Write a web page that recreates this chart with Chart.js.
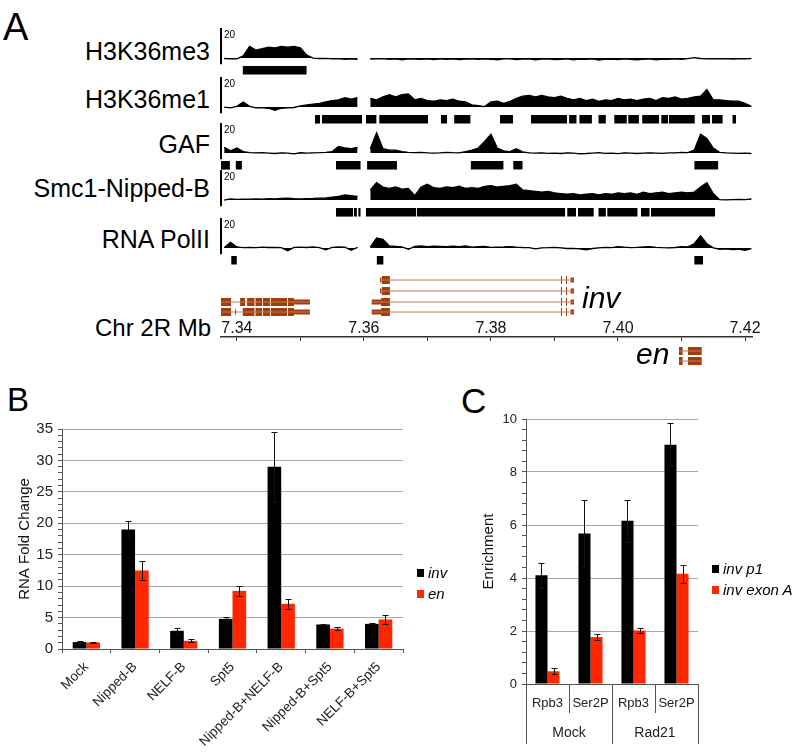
<!DOCTYPE html>
<html><head><meta charset="utf-8">
<script src="https://cdn.jsdelivr.net/npm/chart.js@4.4.1/dist/chart.umd.min.js"></script>
<style>
html,body{margin:0;padding:0;background:#fff;}
body{width:800px;height:756px;position:relative;overflow:hidden;font-family:"Liberation Sans",Arial,sans-serif;}
canvas{position:absolute;}
.t{position:absolute;white-space:nowrap;color:#000;}
.sq{position:absolute;width:7px;height:8px;}
</style></head><body>
<script>
// ---------------- DATA ----------------
const viewStartMb = 7.3375, viewEndMb = 7.4211;
const binPositionsMb = [7.338,7.339,7.340,7.341,7.342,7.343,7.344,7.345,7.346,7.347,
 7.348,7.349,7.350,7.351,7.352,7.353,7.354,7.355,7.356,7.357,
 7.358,7.359,7.360,7.361,7.362,7.363,7.364,7.365,7.366,7.367,
 7.368,7.369,7.370,7.371,7.372,7.373,7.374,7.375,7.376,7.377,
 7.378,7.379,7.380,7.381,7.382,7.383,7.384,7.385,7.386,7.387,
 7.388,7.389,7.390,7.391,7.392,7.393,7.394,7.395,7.396,7.397,
 7.398,7.399,7.400,7.401,7.402,7.403,7.404,7.405,7.406,7.407,
 7.408,7.409,7.410,7.411,7.412,7.413,7.414,7.415,7.416,7.417,
 7.418,7.419,7.420,7.421];
const trackNames = ['H3K36me3','H3K36me1','GAF','Smc1-Nipped-B','RNA PolII'];
const sigH3K36me3 = [-0.3,-0.6,-0.5,1.5,8,5.5,6.5,7.5,7,8,
 7.5,8,7,2,0,-0.3,-0.2,-0.5,-0.4,-0.8,
 -0.6,-0.9,null,-0.7,-0.5,-0.4,-0.8,-0.6,-1.2,-0.5,
 -0.7,-0.9,-0.6,-1.0,-0.5,-0.8,-0.6,-1.1,-0.7,-0.5,
 -0.9,-0.6,-0.8,-1.2,-0.6,-0.5,-1.0,-0.7,-0.6,-1.3,
 -0.7,-0.6,-1.0,-0.8,-0.5,-1.2,-0.7,-0.9,-0.6,-1.4,
 -0.8,-0.7,-1.1,-0.6,-0.9,-1.3,-0.8,-0.6,-1.2,-0.7,
 -0.9,-0.5,-0.8,-0.4,0.3,-0.3,-0.5,-0.4,-0.6,-0.4,
 -0.7,-0.5,-0.6,-0.3];
const sigH3K36me1 = [0,-0.5,0.5,3.5,0.5,-0.5,-0.5,-0.8,-2.3,-0.8,
 -0.5,-0.3,0.8,1.5,2,2.5,3.5,4.5,5,6.5,
 5.5,6.5,null,6,5,7,8.5,7,8.5,9,
 5,6,4.5,4,5,4.5,5.5,4,3.5,1.5,
 1,0.3,3.5,4,2.5,4,6,7.5,8,7,
 8,7,6.5,7.5,6,5,6,4.5,5.5,4,
 5,4.5,6,5,5.5,4.5,5.5,6,4.5,6.5,
 6,7,5.5,6,7,7.5,12,5,5,4.5,
 4,4,2.5,0.5];
const sigGAF = [4,1.5,3.5,1,0.3,0.2,0.3,0,-0.3,0.2,
 0,-0.5,0.2,0,0.2,0.3,0.5,1,4.5,3.5,
 3,4,null,3,14,3,2,2,1,0.5,
 0.3,0.5,0.2,0,0.2,0.5,0.3,0.2,1,2,
 3.5,8,13,3.5,1.5,1,3,0.8,0.2,0,
 0.2,-0.2,0,-0.3,0.2,0,-0.5,-0.3,0,0.3,
 -0.2,0,-0.4,0.2,0,-0.3,0,0.2,0,-0.2,
 0.1,0.2,0.5,0.3,2,13,10,3.5,0.5,0.2,
 0,-0.2,0,-0.3];
const sigSmc1 = [0,0.8,0.5,0.7,0.6,0.8,0.7,0.9,0.8,1.2,
 1.4,1,0.8,1,1.1,1.3,1.5,2,2.5,3.5,
 3,2.5,null,7,12,9,8,9,7.5,8,
 3,9,11,8.5,8,9,8.5,9.5,8,8.5,
 8,9.5,10,9,9.5,10,11,7,6.5,6,
 5.5,6,5,4.5,4,4.5,3.5,4,4.5,3.5,
 4.5,4,5,4.5,5,4,5.5,4.5,5,5.5,
 4.5,5,5.5,5,5.5,9,12,4.5,0.3,0.2,
 0.3,0.4,0.3,0.8];
const sigPolII = [0.2,4,0.8,0.3,0.5,0.3,0.6,0.4,0.5,0.3,
 -1.8,0.5,0.6,0.4,0.8,0.3,-1.2,0.5,0.8,0.6,
 -1.5,0.5,null,0.6,7,6,1.5,1.2,0.8,-0.8,
 1.2,1.5,1,1.4,1.2,0.9,1.3,1,1.5,0.6,
 0.9,1.2,0.5,0.7,0.8,1,0.6,0.4,0.3,-0.5,
 0.2,0.3,0.5,0.2,-0.3,-0.2,-0.6,-1.3,-0.3,0.2,
 0.5,0.3,1,0.6,0.3,0.5,0.8,1,0.5,0.3,
 0.2,0.4,1,0.8,3,8.5,3,0.2,-0.8,-0.6,
 -1,-0.8,-1.5,-0.4];
const peaksH3K36me3 = [[7.3409,7.3510]];
const peaksH3K36me1 = [[7.3523,7.3531],[7.3534,7.3597],[7.3603,7.3620],[7.3624,7.3701],[7.3721,7.3731],[7.3742,7.3768],[7.3814,7.3835],[7.3863,7.3920],[7.3923,7.3935],[7.3939,7.3959],[7.3969,7.3981],[7.3994,7.4014],[7.4016,7.4033],[7.4038,7.4065],[7.4068,7.4079],[7.4080,7.4121],[7.4132,7.4145],[7.4148,7.4165],[7.4180,7.4186]];
const peaksGAF = [[7.3375,7.3389],[7.3398,7.3408],[7.3556,7.3595],[7.3605,7.3652],[7.3768,7.3820],[7.3835,7.3850],[7.4120,7.4158]];
const peaksSmc1 = [[7.3556,7.3583],[7.3584,7.3589],[7.3591,7.3595],[7.3603,7.3682],[7.3683,7.3917],[7.3920,7.3934],[7.3937,7.3962],[7.3969,7.3981],[7.3983,7.4031],[7.4036,7.4050],[7.4052,7.4153]];
const peaksPolII = [[7.3391,7.3400],[7.3620,7.3631],[7.4120,7.4134]];

const geneUpstream = [
 {row:2, span:[7.3375,7.3515], exons:[[7.3375,7.3391,'cds'],[7.3405,7.3413,'cds'],[7.3416,7.3428,'cds'],[7.3429,7.3440,'cds'],[7.3441,7.3452,'cds'],[7.3453,7.3479,'cds'],[7.3480,7.3490,'cds'],[7.3490,7.3515,'utr']]},
 {row:3, span:[7.3375,7.3515], exons:[[7.3375,7.3391,'cds'],[7.3397,7.3399,'utr'],[7.3409,7.3428,'cds'],[7.3429,7.3440,'cds'],[7.3441,7.3452,'cds'],[7.3453,7.3479,'cds'],[7.3480,7.3490,'cds'],[7.3490,7.3515,'utr']]}
];
const geneInv = [
 {row:0, span:[7.3625,7.3931], exons:[[7.3625,7.3628,'utr'],[7.3628,7.3641,'cds'],[7.3910,7.3912,'cds'],[7.3918,7.3920,'cds'],[7.3925,7.3931,'utr']]},
 {row:1, span:[7.3625,7.3931], exons:[[7.3625,7.3628,'utr'],[7.3628,7.3641,'cds'],[7.3910,7.3912,'cds'],[7.3918,7.3920,'cds'],[7.3925,7.3931,'utr']]},
 {row:2, span:[7.3612,7.3931], exons:[[7.3612,7.3627,'utr'],[7.3627,7.3641,'cds'],[7.3910,7.3912,'cds'],[7.3918,7.3920,'cds'],[7.3925,7.3931,'utr']]},
 {row:3, span:[7.3612,7.3931], exons:[[7.3612,7.3627,'utr'],[7.3627,7.3641,'cds'],[7.3910,7.3912,'cds'],[7.3918,7.3920,'cds'],[7.3925,7.3931,'utr']]}
];
const geneEn = [
 {row:0, span:[7.4096,7.4132], exons:[[7.4096,7.4102,'cds'],[7.4110,7.4132,'cds']]},
 {row:1, span:[7.4096,7.4132], exons:[[7.4096,7.4102,'cds'],[7.4110,7.4132,'cds']]}
];

const bCategories = ['Mock','Nipped-B','NELF-B','Spt5','Nipped-B+NELF-B','Nipped-B+Spt5','NELF-B+Spt5'];
const bInv = [1.1,19.0,2.9,4.8,29.0,3.9,4.0];
const bInvErr = [0.1,1.3,0.5,0.25,5.6,0.15,0.1];
const bEn = [1.05,12.5,1.3,9.25,7.2,3.25,4.7];
const bEnErr = [0.1,1.5,0.25,0.8,0.8,0.25,0.65];

const cTargets = ['Rpb3','Ser2P','Rpb3','Ser2P'];
const cGroups = ['Mock','Rad21'];
const cP1 = [4.1,5.68,6.16,9.03];
const cP1Err = [0.47,1.25,0.79,0.82];
const cExonA = [0.48,1.77,2.02,4.16];
const cExonAErr = [0.12,0.12,0.09,0.34];

// ---------------- SETUP ----------------
const FONT = '"Liberation Sans", Arial, sans-serif';
Chart.defaults.font.family = FONT;
Chart.defaults.animation = false;
Chart.defaults.responsive = false;
Chart.defaults.plugins.legend.display = false;
Chart.defaults.plugins.tooltip.enabled = false;
Chart.defaults.events = [];

function addText(txt, style){
  const d = document.createElement('div'); d.className='t'; d.textContent = txt;
  Object.assign(d.style, style); document.body.appendChild(d); return d;
}
function addCanvas(left, top, w, h){
  const c = document.createElement('canvas'); c.width=w; c.height=h;
  c.style.left=left+'px'; c.style.top=top+'px'; c.style.width=w+'px'; c.style.height=h+'px';
  document.body.appendChild(c); return c;
}
function rectDs(s,e,yTop,yBot,color){
  return {data:[{x:s,y:yTop},{x:e,y:yTop}], borderWidth:0, borderColor:color, backgroundColor:color,
          fill:{value:yBot}, pointRadius:0, tension:0};
}

// ---------------- PANEL A ----------------
addText('A',{left:'3px',top:'8px',fontSize:'38px',lineHeight:'38px'});
addText('B',{left:'7px',top:'383px',fontSize:'33px',lineHeight:'33px'});
addText('C',{left:'461px',top:'383px',fontSize:'35px',lineHeight:'35px'});

const trackSignals = [sigH3K36me3, sigH3K36me1, sigGAF, sigSmc1, sigPolII];
const trackPeaks = [peaksH3K36me3, peaksH3K36me1, peaksGAF, peaksSmc1, peaksPolII];
const trackBaselines = [58, 107, 153, 200, 248];
const labelBaselines = [60, 108, 153, 197, 248];

const trackAxisPlugin = {id:'trackAxis', afterDraw(chart){
  const {ctx, chartArea, scales:{y}} = chart;
  ctx.save(); ctx.strokeStyle='#000'; ctx.lineWidth=2;
  ctx.beginPath(); ctx.moveTo(chartArea.left, y.getPixelForValue(20.8)); ctx.lineTo(chartArea.left, y.getPixelForValue(-4.2)); ctx.stroke();
  ctx.fillStyle='#000'; ctx.font='10px '+FONT; ctx.textBaseline='top'; ctx.textAlign='left';
  ctx.fillText('20', chartArea.left+3, y.getPixelForValue(20)+1);
  ctx.restore();
}};

trackNames.forEach((name, idx) => {
  const base = trackBaselines[idx];
  addText(name,{right:'590px',top:(labelBaselines[idx]-20.8)+'px',fontSize:'25px',lineHeight:'25px'});
  const cv = addCanvas(219, base-34, 533, 54);
  const datasets = [{
    data: binPositionsMb.map((x,i)=>({x, y: trackSignals[idx][i]})),
    borderColor:'#000', borderWidth:1.3, backgroundColor:'#000', fill:{value:0},
    pointRadius:0, tension:0, spanGaps:false
  }];
  trackPeaks[idx].forEach(([s,e]) => datasets.push(rectDs(s,e,-5.5,-11.4,'#000')));
  new Chart(cv, {type:'line', data:{datasets}, options:{
    devicePixelRatio:1,
    layout:{padding:{left:2,right:0,top:0,bottom:0}},
    scales:{x:{type:'linear',min:viewStartMb,max:viewEndMb,display:false},
            y:{type:'linear',min:-13.75,max:23.5,display:false}}
  }, plugins:[trackAxisPlugin]});
});

// gene models
const geneColor = '#a13c0c', intronColor = '#c27a58';
function geneChart(left, top, w, h, transcripts, rowCenters){
  const cv = addCanvas(left, top, w, h);
  const datasets = [];
  transcripts.forEach(t => {
    const yc = rowCenters[t.row];
    datasets.push({data:[{x:t.span[0],y:yc},{x:t.span[1],y:yc}], borderColor:intronColor, borderWidth:1, pointRadius:0, fill:false});
    t.exons.forEach(([s,e,k]) => { const hh = k==='cds'?4:2.5; datasets.push(rectDs(s,e,yc-hh,yc+hh,geneColor)); });
  });
  new Chart(cv, {type:'line', data:{datasets}, options:{
    devicePixelRatio:1, layout:{padding:0},
    scales:{x:{type:'linear',min:viewStartMb,max:viewEndMb,display:false},
            y:{type:'linear',min:0,max:h,reverse:true,display:false}}
  }});
}
geneChart(221, 272, 531, 48, geneUpstream.concat(geneInv), [8,19,30,40]);
geneChart(221, 344, 531, 24, geneEn, [7,17]);
addText('inv',{left:'582px',top:'283px',fontSize:'30px',lineHeight:'30px',fontStyle:'italic'});
addText('en',{left:'636px',top:'339px',fontSize:'30px',lineHeight:'30px',fontStyle:'italic'});
addText('Chr 2R Mb',{right:'589px',top:'316px',fontSize:'24px',lineHeight:'24px'});

// genomic coordinate axis
(function(){
  const cv = addCanvas(191, 315, 591, 30);
  new Chart(cv, {type:'line', data:{datasets:[]}, options:{
    devicePixelRatio:1,
    layout:{padding:{left:30,right:30,top:0,bottom:4}},
    scales:{
      x:{type:'linear',position:'top',min:viewStartMb,max:viewEndMb,
         ticks:{stepSize:0.01,includeBounds:false,autoSkip:false,maxRotation:0,font:{size:16},color:'#111',padding:-1,
                callback:v=>{const k=Math.round(v*100); return k%2===0?(k/100).toFixed(2):'';}},
         grid:{drawOnChartArea:true,drawTicks:false,color:'#333',lineWidth:1},
         border:{display:true,color:'#333',width:1.5},
         afterFit(s){s.height=22;}},
      y:{display:false,min:0,max:1}
    }
  }});
})();

// ---------------- ERROR BARS ----------------
const errorBarPlugin = {id:'errorBars', afterDatasetsDraw(chart){
  const {ctx} = chart; const y = chart.scales.y;
  chart.data.datasets.forEach((ds,i)=>{
    const meta = chart.getDatasetMeta(i);
    meta.data.forEach((bar,j)=>{
      const v = ds.data[j], e = ds.errors[j];
      const x = Math.round(bar.x)+0.5;
      const yt = Math.round(y.getPixelForValue(v+e))+0.5, yb = Math.round(y.getPixelForValue(v-e))+0.5;
      ctx.save(); ctx.strokeStyle='#111'; ctx.lineWidth=1;
      ctx.beginPath(); ctx.moveTo(x,yt); ctx.lineTo(x,yb);
      ctx.moveTo(x-3,yt); ctx.lineTo(x+3,yt);
      ctx.moveTo(x-3,yb); ctx.lineTo(x+3,yb); ctx.stroke(); ctx.restore();
    });
  });
}};

// ---------------- PANEL B ----------------
(function(){
  const cv = addCanvas(0, 415, 455, 341);
  new Chart(cv, {type:'bar', data:{labels:bCategories, datasets:[
    {label:'inv', data:bInv, errors:bInvErr, backgroundColor:'#000', categoryPercentage:0.56, barPercentage:1},
    {label:'en', data:bEn, errors:bEnErr, backgroundColor:'#ff2600', categoryPercentage:0.56, barPercentage:1}
  ]}, options:{
    devicePixelRatio:1,
    layout:{padding:{top:8,right:52,left:0,bottom:0}},
    scales:{
      x:{grid:{offset:true,drawOnChartArea:false,tickLength:4,color:'#555'},border:{color:'#555'},
         ticks:{minRotation:45,maxRotation:45,autoSkip:false,font:{size:13.5},color:'#222',padding:6},
         afterFit(s){s.height=107;}},
      y:{min:0,max:35,
         ticks:{stepSize:1,autoSkip:false,callback:v=>v%5===0?v:'',font:{size:15},color:'#222',padding:5},
         grid:{color:c=>(c.tick && c.tick.value%5===0)?'#a8a8a8':'rgba(0,0,0,0)',tickColor:'#555',tickLength:4},
         border:{color:'#555'},
         title:{display:true,text:'RNA Fold Change',font:{size:15},color:'#111',padding:{top:16,bottom:0}},
         afterFit(s){s.width=62;}}
    }
  }, plugins:[errorBarPlugin]});
  const lg = [['inv','#000',573],['en','#ff2600',594]];
  lg.forEach(([t,c,cy])=>{
    const s=document.createElement('div'); s.className='sq'; s.style.background=c; s.style.left='417px'; s.style.top=(cy-4)+'px'; document.body.appendChild(s);
    addText(t,{left:'428px',top:(cy-9)+'px',fontSize:'15px',lineHeight:'18px',fontStyle:'italic'});
  });
})();

// ---------------- PANEL C ----------------
(function(){
  const cv = addCanvas(440, 380, 360, 376);
  new Chart(cv, {type:'bar', data:{labels:cTargets, datasets:[
    {label:'inv p1', data:cP1, errors:cP1Err, backgroundColor:'#000', categoryPercentage:0.56, barPercentage:1},
    {label:'inv exon A', data:cExonA, errors:cExonAErr, backgroundColor:'#ff2600', categoryPercentage:0.56, barPercentage:1}
  ]}, options:{
    devicePixelRatio:1,
    layout:{padding:{top:39,right:102,left:0,bottom:12}},
    scales:{
      x:{weight:0,grid:{offset:true,drawOnChartArea:false,tickLength:29,color:'#555'},border:{color:'#555'},
         ticks:{maxRotation:0,autoSkip:false,font:{size:13},color:'#222',padding:-17},
         afterFit(s){s.height=29;}},
      x2:{type:'category',axis:'x',position:'bottom',weight:1,labels:cGroups,offset:true,
         grid:{offset:true,drawOnChartArea:false,tickLength:31,color:'#555'},border:{display:false},
         ticks:{maxRotation:0,autoSkip:false,font:{size:14},color:'#222',padding:-19},
         afterFit(s){s.height=31;}},
      y:{min:0,max:10,
         ticks:{stepSize:0.4,autoSkip:false,font:{size:13},color:'#222',padding:5,
                callback:v=>{const r=Math.round(v); return (Math.abs(v-r)<1e-6 && r%2===0)?String(r):'';}},
         grid:{color:c=>{ if(!c.tick) return 'rgba(0,0,0,0)'; const v=c.tick.value, r=Math.round(v); return (Math.abs(v-r)<1e-6 && r%2===0)?'#a8a8a8':'rgba(0,0,0,0)';},
               tickColor:'#555',tickLength:4},
         border:{color:'#555'},
         title:{display:true,text:'Enrichment',font:{size:15},color:'#111',padding:{top:40,bottom:0}},
         afterFit(s){s.width=86;}}
    }
  }, plugins:[errorBarPlugin]});
  const lg = [['inv p1','#000',569],['inv exon A','#ff2600',590]];
  lg.forEach(([t,c,cy])=>{
    const s=document.createElement('div'); s.className='sq'; s.style.background=c; s.style.left='712px'; s.style.top=(cy-4)+'px'; document.body.appendChild(s);
    addText(t,{left:'723px',top:(cy-9)+'px',fontSize:'15px',lineHeight:'18px',fontStyle:'italic'});
  });
})();
</script>
</body></html>
